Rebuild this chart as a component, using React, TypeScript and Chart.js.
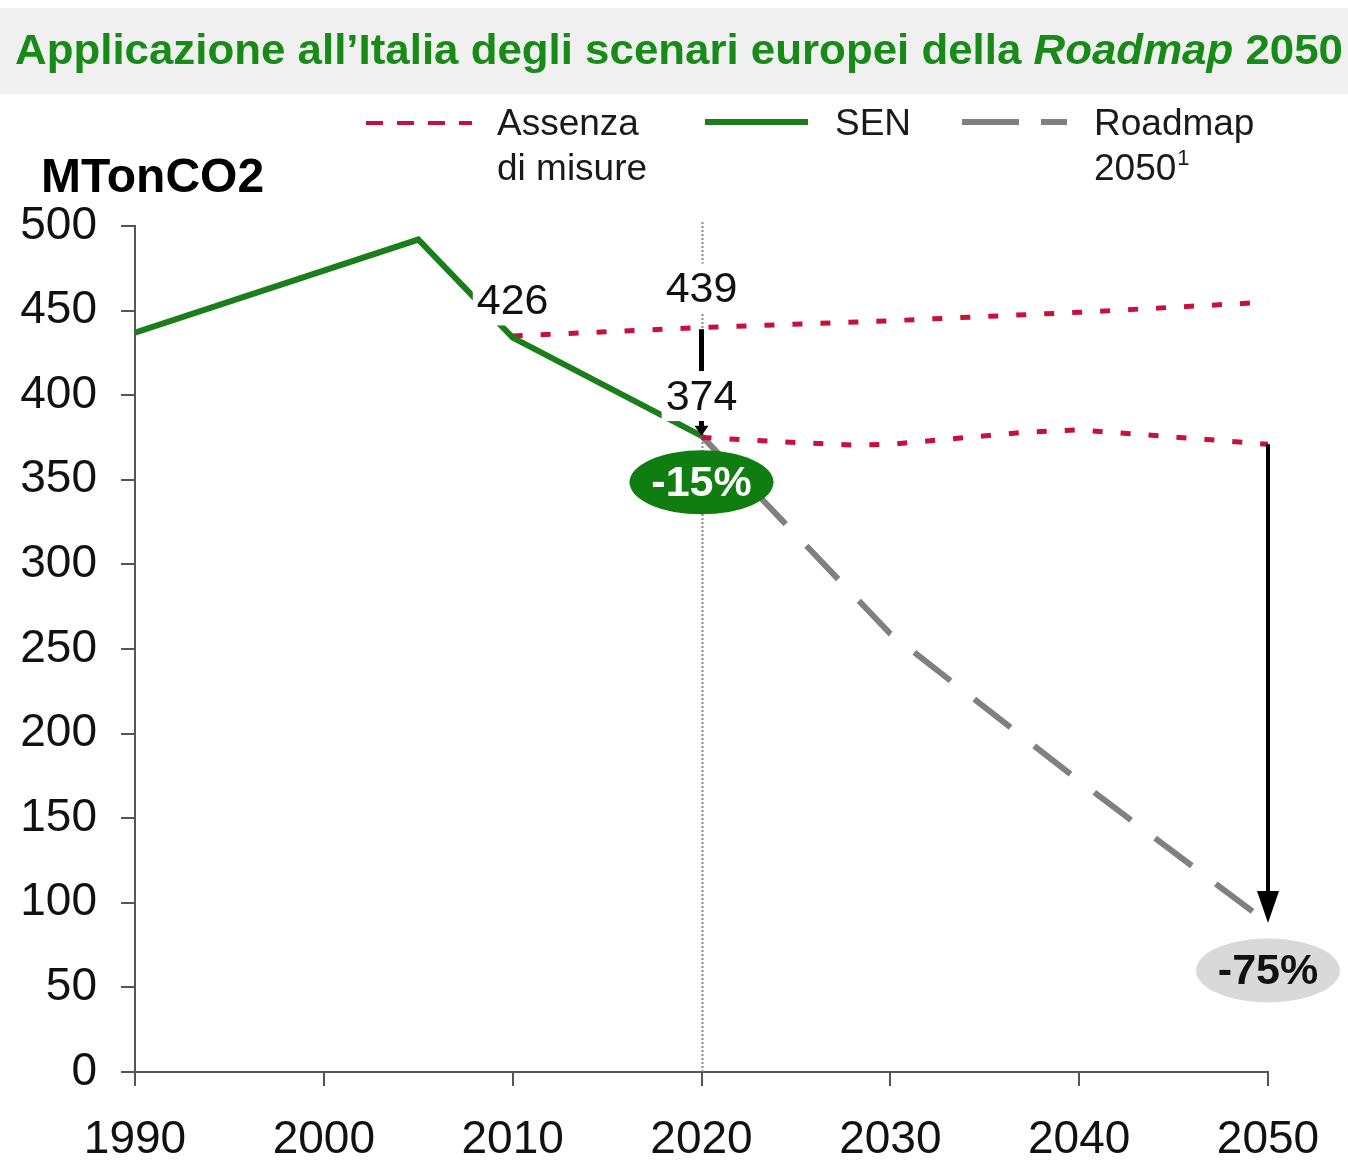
import React, { useEffect, useRef } from "react";
import { Chart, registerables } from "chart.js";

Chart.register(...registerables);

const W = 1348;
const H = 1169;
const FONT = "'Liberation Sans', Arial, Helvetica, sans-serif";

// ---- data ----
const SEN_YEARS = [1990, 2005, 2010, 2020];
const SEN_VALUES = [437, 492, 434, 376];

const NOMEASURES_YEARS = [2010, 2020, 2030, 2040, 2050];
const NOMEASURES_VALUES = [435, 440, 444, 449, 455];

const SEN_NOMEASURES_YEARS = [2020, 2025, 2028, 2030, 2034, 2037, 2040, 2043, 2046, 2050];
const SEN_NOMEASURES_VALUES = [375, 372, 370.5, 371, 375, 378, 379.5, 377, 374.5, 371];

const ROADMAP_YEARS = [2020, 2030, 2040, 2050];
const ROADMAP_VALUES = [376, 259, 172, 88];

const X_MIN = 1990;
const X_MAX = 2050;
const X_STEP = 10;
const Y_MIN = 0;
const Y_MAX = 500;
const Y_STEP = 50;

const TITLE_PARTS = ["Applicazione all\u2019Italia degli scenari europei della ", "Roadmap", " 2050"];
const UNIT_LABEL = "MTonCO2";
const LEGEND_LABELS = [["Assenza", "di misure"], ["SEN"], ["Roadmap", "2050"]];
const VALUE_LABELS = ["426", "439", "374"];
const BADGE_LABELS = ["-15%", "-75%"];

// callout anchors (data coordinates)
const VALUE_LABEL_ANCHORS = [
  { x: 2010, y: 456 },
  { x: 2020, y: 463 },
  { x: 2020, y: 399.5 },
];
const BADGE_ANCHORS = [
  { x: 2020, y: 348.5 },
  { x: 2050, y: 60 },
];
const ARROW_2020 = { x: 2020, from: 439, to: 376 };
const ARROW_2050 = { x: 2050, from: 371, to: 88 };

const GREEN = "#1a7f1a";
const RED = "#c8103c";
const GRAY = "#808080";

const pts = (xs: number[], ys: number[]) => xs.map((x, i) => ({ x, y: ys[i] }));

function drawArrowDown(ctx: CanvasRenderingContext2D, x: number, y1: number, y2: number, lw: number, hw: number, hh: number) {
  ctx.save();
  ctx.strokeStyle = "#000";
  ctx.fillStyle = "#000";
  ctx.lineWidth = lw;
  ctx.lineCap = "butt";
  ctx.beginPath();
  ctx.moveTo(x, y1);
  ctx.lineTo(x, y2 - hh + 2);
  ctx.stroke();
  ctx.beginPath();
  ctx.moveTo(x - hw / 2, y2 - hh);
  ctx.lineTo(x + hw / 2, y2 - hh);
  ctx.lineTo(x, y2);
  ctx.closePath();
  ctx.fill();
  ctx.restore();
}

const decorPlugin = {
  id: "decor",
  beforeDraw(chart: any) {
    const ctx: CanvasRenderingContext2D = chart.ctx;
    ctx.save();
    ctx.fillStyle = "#ffffff";
    ctx.fillRect(0, 0, W, H);
    ctx.fillStyle = "#f0f0f0";
    ctx.fillRect(0, 8, W, 86);
    // title
    const fonts = [`bold 43px ${FONT}`, `italic bold 43px ${FONT}`, `bold 43px ${FONT}`];
    let total = 0;
    const widths: number[] = [];
    TITLE_PARTS.forEach((t, i) => {
      ctx.font = fonts[i];
      const w = ctx.measureText(t).width;
      widths.push(w);
      total += w;
    });
    const sx = 1328 / total;
    ctx.translate(15, 64);
    ctx.scale(sx, 1);
    ctx.fillStyle = "#178a17";
    ctx.textBaseline = "alphabetic";
    ctx.textAlign = "left";
    let x = 0;
    TITLE_PARTS.forEach((t, i) => {
      ctx.font = fonts[i];
      ctx.fillText(t, x, 0);
      x += widths[i];
    });
    ctx.restore();
  },
  beforeDatasetsDraw(chart: any) {
    const ctx: CanvasRenderingContext2D = chart.ctx;
    const xs = chart.scales.x;
    const a = chart.chartArea;
    const x = Math.round(xs.getPixelForValue(2020)) + 0.5;
    ctx.save();
    ctx.strokeStyle = "#8a8a8a";
    ctx.lineWidth = 2;
    ctx.setLineDash([2, 2]);
    ctx.beginPath();
    ctx.moveTo(x, a.top - 4);
    ctx.lineTo(x, a.bottom);
    ctx.stroke();
    ctx.restore();
  },
  afterDatasetsDraw(chart: any) {
    const ctx: CanvasRenderingContext2D = chart.ctx;
    const xs = chart.scales.x;
    const ys = chart.scales.y;

    // arrow at 2020
    drawArrowDown(ctx, xs.getPixelForValue(ARROW_2020.x), ys.getPixelForValue(ARROW_2020.from), ys.getPixelForValue(ARROW_2020.to), 5, 14, 10);

    // value labels with white background
    ctx.save();
    ctx.font = `43px ${FONT}`;
    ctx.textAlign = "center";
    ctx.textBaseline = "middle";
    VALUE_LABELS.forEach((t, i) => {
      const px = xs.getPixelForValue(VALUE_LABEL_ANCHORS[i].x);
      const py = ys.getPixelForValue(VALUE_LABEL_ANCHORS[i].y);
      const w = ctx.measureText(t).width + 8;
      ctx.fillStyle = "#ffffff";
      ctx.fillRect(px - w / 2, py - 25, w, 50);
      ctx.fillStyle = "#111";
      ctx.fillText(t, px, py + 2);
    });
    ctx.restore();

    // badges
    const fills = ["#0f7d0f", "#d9d9d9"];
    const txt = ["#ffffff", "#111111"];
    BADGE_LABELS.forEach((t, i) => {
      const px = xs.getPixelForValue(BADGE_ANCHORS[i].x);
      const py = ys.getPixelForValue(BADGE_ANCHORS[i].y);
      ctx.save();
      ctx.fillStyle = fills[i];
      ctx.beginPath();
      ctx.ellipse(px, py, 72, 32, 0, 0, Math.PI * 2);
      ctx.fill();
      ctx.font = `bold 43px ${FONT}`;
      ctx.textAlign = "center";
      ctx.textBaseline = "middle";
      ctx.fillStyle = txt[i];
      ctx.fillText(t, px, py + 2);
      ctx.restore();
    });

    // arrow at 2050
    drawArrowDown(ctx, xs.getPixelForValue(ARROW_2050.x), ys.getPixelForValue(ARROW_2050.from), ys.getPixelForValue(ARROW_2050.to), 4, 22, 32);
  },
  afterDraw(chart: any) {
    const ctx: CanvasRenderingContext2D = chart.ctx;
    ctx.save();
    // unit label
    ctx.font = `bold 48px ${FONT}`;
    ctx.fillStyle = "#000";
    ctx.textAlign = "left";
    ctx.textBaseline = "middle";
    ctx.fillText(UNIT_LABEL, 41, 179);

    // legend samples
    const ly = 123;
    ctx.lineCap = "butt";
    ctx.strokeStyle = RED;
    ctx.lineWidth = 4;
    ctx.setLineDash([17, 14]);
    ctx.beginPath();
    ctx.moveTo(366, ly);
    ctx.lineTo(472, ly);
    ctx.stroke();

    ctx.strokeStyle = GREEN;
    ctx.lineWidth = 6;
    ctx.setLineDash([]);
    ctx.beginPath();
    ctx.moveTo(705, ly - 1);
    ctx.lineTo(808, ly - 1);
    ctx.stroke();

    ctx.strokeStyle = GRAY;
    ctx.lineWidth = 6;
    ctx.setLineDash([57, 22]);
    ctx.beginPath();
    ctx.moveTo(962, ly - 1);
    ctx.lineTo(1067, ly - 1);
    ctx.stroke();
    ctx.setLineDash([]);

    // legend texts
    ctx.font = `37px ${FONT}`;
    ctx.fillStyle = "#1a1a1a";
    ctx.textBaseline = "middle";
    ctx.fillText(LEGEND_LABELS[0][0], 497, 125);
    ctx.fillText(LEGEND_LABELS[0][1], 497, 170);
    ctx.fillText(LEGEND_LABELS[1][0], 835, 125);
    ctx.fillText(LEGEND_LABELS[2][0], 1094, 125);
    ctx.fillText(LEGEND_LABELS[2][1], 1094, 170);
    const w2050 = ctx.measureText(LEGEND_LABELS[2][1]).width;
    ctx.font = `22px ${FONT}`;
    ctx.fillText("1", 1094 + w2050 + 1, 159);
    ctx.restore();
  },
};

export default function App() {
  const ref = useRef<HTMLCanvasElement | null>(null);

  useEffect(() => {
    if (!ref.current) return;
    const chart = new Chart(ref.current, {
      type: "line",
      data: {
        datasets: [
          {
            label: "SEN",
            data: pts(SEN_YEARS, SEN_VALUES),
            borderColor: GREEN,
            borderWidth: 6,
            pointRadius: 0,
            tension: 0,
            fill: false,
          },
          {
            label: "Assenza di misure",
            data: pts(NOMEASURES_YEARS, NOMEASURES_VALUES),
            borderColor: RED,
            borderWidth: 5,
            borderDash: [10, 18],
            pointRadius: 0,
            tension: 0,
            fill: false,
          },
          {
            label: "Assenza di misure (SEN)",
            data: pts(SEN_NOMEASURES_YEARS, SEN_NOMEASURES_VALUES),
            borderColor: RED,
            borderWidth: 5,
            borderDash: [10, 18],
            pointRadius: 0,
            tension: 0,
            fill: false,
          },
          {
            label: "Roadmap 2050",
            data: pts(ROADMAP_YEARS, ROADMAP_VALUES),
            borderColor: GRAY,
            borderWidth: 6,
            borderDash: [46, 30],
            pointRadius: 0,
            tension: 0,
            fill: false,
          },
        ],
      },
      options: {
        animation: false,
        responsive: false,
        maintainAspectRatio: false,
        layout: { padding: { top: 226, right: 80, left: 0, bottom: 0 } },
        plugins: {
          legend: { display: false },
          tooltip: { enabled: false },
          title: { display: false },
        },
        scales: {
          x: {
            type: "linear",
            min: X_MIN,
            max: X_MAX,
            ticks: {
              stepSize: X_STEP,
              callback: (v: any) => String(v),
              font: { family: FONT, size: 46 },
              color: "#111",
              padding: 27,
              maxRotation: 0,
              autoSkip: false,
            },
            grid: { drawOnChartArea: false, drawTicks: true, tickLength: 14, color: "#555", lineWidth: 2 },
            border: { display: true, color: "#555", width: 2 },
            afterFit: (s: any) => {
              s.height = H - 1072;
            },
          },
          y: {
            type: "linear",
            min: Y_MIN,
            max: Y_MAX,
            ticks: {
              stepSize: Y_STEP,
              callback: (v: any) => String(v),
              font: { family: FONT, size: 46 },
              color: "#111",
              padding: 24,
            },
            grid: { drawOnChartArea: false, drawTicks: true, tickLength: 14, color: "#555", lineWidth: 2 },
            border: { display: true, color: "#555", width: 2 },
            afterFit: (s: any) => {
              s.width = 135;
            },
          },
        },
      },
      plugins: [decorPlugin],
    } as any);
    return () => chart.destroy();
  }, []);

  return (
    <div style={{ position: "fixed", left: 0, top: 0, width: W, height: H, background: "#fff" }}>
      <canvas ref={ref} width={W} height={H} style={{ display: "block", width: W, height: H }} />
    </div>
  );
}
